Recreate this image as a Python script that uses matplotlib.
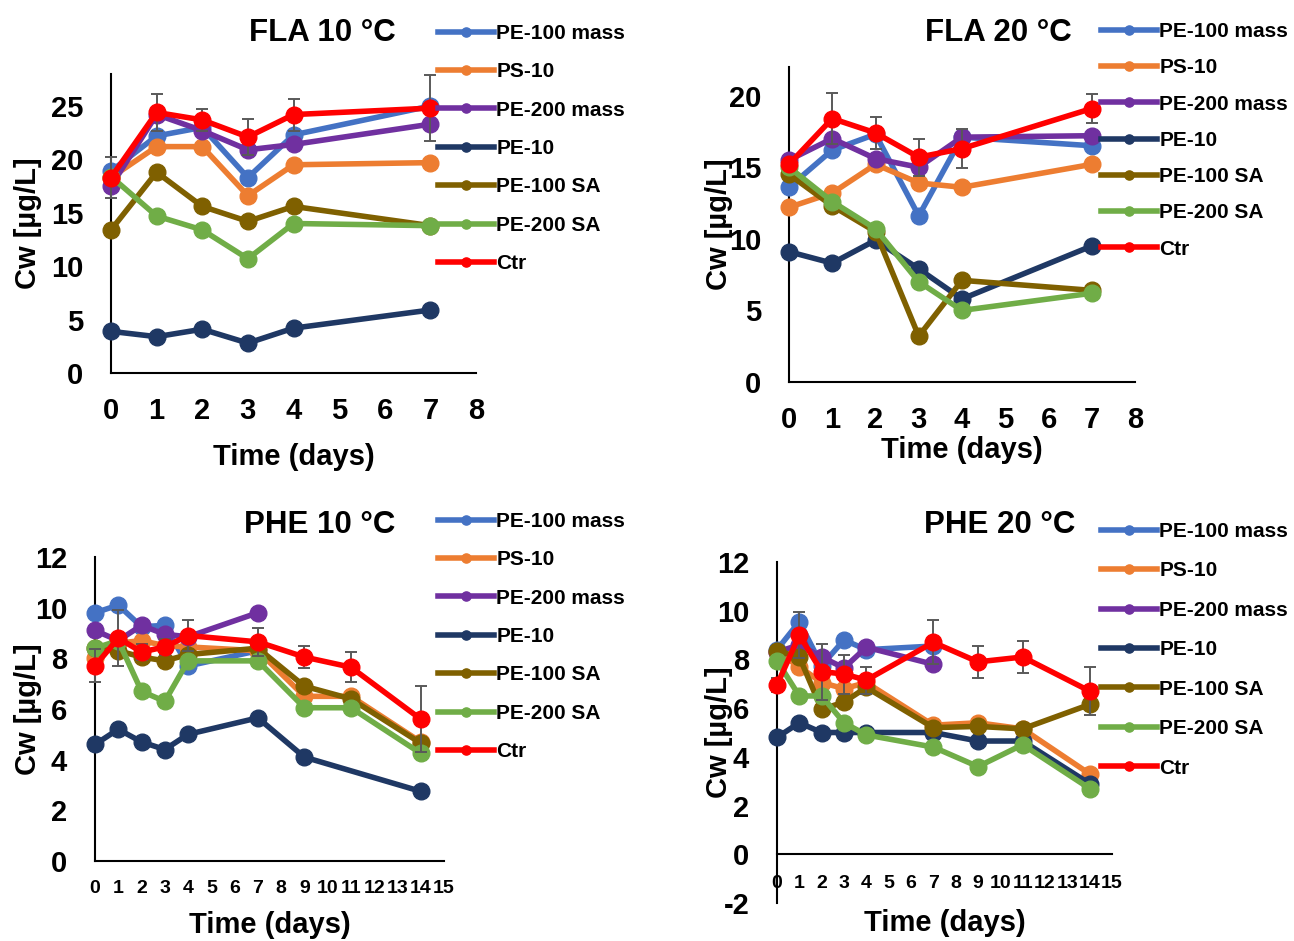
import matplotlib.pyplot as plt

plt.rcParams["font.family"] = ["Liberation Sans", "DejaVu Sans"]
plt.rcParams["font.weight"] = "bold"
plt.rcParams["axes.unicode_minus"] = False

W, H = 1294, 941

series_names = ["PE-100 mass", "PS-10", "PE-200 mass", "PE-10", "PE-100 SA", "PE-200 SA", "Ctr"]
series_colors = ["#4472C4", "#ED7D31", "#7030A0", "#1F3864", "#7F6000", "#70AD47", "#FF0000"]

# FLA, sampled on days 0-4 and 7
fla_days = [0, 1, 2, 3, 4, 7]

fla10_pe100_mass = [18.9, 22.2, 23.0, 18.3, 22.3, 25.0]
fla10_ps10 = [18.3, 21.2, 21.2, 16.6, 19.5, 19.7]
fla10_pe200_mass = [17.5, 24.2, 22.7, 20.9, 21.4, 23.3]
fla10_pe10 = [3.9, 3.4, 4.1, 2.8, 4.2, 5.9]
fla10_pe100_sa = [13.4, 18.8, 15.6, 14.2, 15.6, 13.8]
fla10_pe200_sa = [18.4, 14.7, 13.4, 10.7, 14.0, 13.8]
fla10_ctr = [18.3, 24.4, 23.7, 22.1, 24.2, 24.8]
fla10_ctr_err = [1.9, 1.7, 1.0, 1.7, 1.5, 3.1]

fla20_pe100_mass = [13.6, 16.2, 17.3, 11.6, 17.1, 16.5]
fla20_ps10 = [12.2, 13.2, 15.2, 13.9, 13.6, 15.2]
fla20_pe200_mass = [15.5, 17.0, 15.6, 15.0, 17.1, 17.2]
fla20_pe10 = [9.1, 8.3, 9.9, 7.9, 5.8, 9.5]
fla20_pe100_sa = [14.5, 12.3, 10.5, 3.2, 7.1, 6.4]
fla20_pe200_sa = [15.0, 12.6, 10.7, 7.0, 5.0, 6.2]
fla20_ctr = [15.2, 18.4, 17.4, 15.7, 16.3, 19.1]
fla20_ctr_err = [0.3, 1.8, 1.1, 1.3, 1.35, 1.0]

# PHE, sampled up to day 14
phe_days = [0, 1, 2, 3, 4, 7, 9, 11, 14]
phe_days_short = [0, 1, 2, 3, 4, 7]
phe_days_no11 = [0, 1, 2, 3, 4, 7, 9, 14]

phe10_pe100_mass = [9.8, 10.1, 9.25, 9.3, 7.7, 8.3]
phe10_ps10 = [8.0, 8.6, 8.7, 8.5, 8.45, 8.3, 6.5, 6.5, 4.7]
phe10_pe200_mass = [9.1, 8.7, 9.3, 8.95, 8.85, 9.8]
phe10_pe10 = [4.6, 5.2, 4.7, 4.4, 5.0, 5.65, 4.1, 2.75]
phe10_pe100_sa = [8.4, 8.3, 8.05, 7.9, 8.15, 8.4, 6.9, 6.4, 4.65]
phe10_pe200_sa = [8.4, 8.7, 6.7, 6.3, 7.9, 7.9, 6.05, 6.05, 4.25]
phe10_ctr = [7.7, 8.8, 8.25, 8.45, 8.9, 8.65, 8.05, 7.65, 5.6]
phe10_ctr_err = [0.65, 1.1, 0.3, 0.3, 0.6, 0.55, 0.42, 0.6, 1.3]

phe20_pe100_mass = [8.4, 9.55, 7.75, 8.8, 8.4, 8.55]
phe20_ps10 = [8.3, 7.7, 7.05, 6.8, 7.05, 5.3, 5.4, 5.15, 3.3]
phe20_pe200_mass = [8.3, 8.6, 8.1, 7.65, 8.5, 7.8]
phe20_pe10 = [4.8, 5.4, 5.0, 5.0, 5.0, 5.0, 4.65, 4.65, 2.9]
phe20_pe100_sa = [8.35, 8.1, 5.95, 6.25, 6.85, 5.2, 5.25, 5.15, 6.15]
phe20_pe200_sa = [7.95, 6.5, 6.5, 5.4, 4.9, 4.4, 3.6, 4.5, 2.7]
phe20_ctr = [6.95, 9.0, 7.5, 7.4, 7.15, 8.7, 7.9, 8.1, 6.7]
phe20_ctr_err = [0.3, 0.95, 1.15, 0.8, 0.55, 0.9, 0.65, 0.65, 1.0]


def box(left, top, right, bottom):
    # pixel box -> figure fraction rectangle
    return [left / W, 1 - bottom / H, (right - left) / W, (bottom - top) / H]


panels = [
    dict(title="FLA 10 °C", title_xy=(322, 33), rect=box(111, 74, 476, 373),
         xs=[fla_days] * 7,
         ys=[fla10_pe100_mass, fla10_ps10, fla10_pe200_mass, fla10_pe10,
             fla10_pe100_sa, fla10_pe200_sa, fla10_ctr],
         err=fla10_ctr_err, ylim=(0, 28), yticks=range(0, 26, 5),
         xlim=(0, 8), xticks=range(0, 9), xtick_size=21, xpad=17,
         ylabel_x=-0.189, xlabel_y=-0.28, leg_xy=(438, 24), leg_space=0.93),
    dict(title="FLA 20 °C", title_xy=(998, 33), rect=box(789, 67, 1135, 382),
         xs=[fla_days] * 7,
         ys=[fla20_pe100_mass, fla20_ps10, fla20_pe200_mass, fla20_pe10,
             fla20_pe100_sa, fla20_pe200_sa, fla20_ctr],
         err=fla20_ctr_err, ylim=(0, 22), yticks=range(0, 21, 5),
         xlim=(0, 8), xticks=range(0, 9), xtick_size=21, xpad=17,
         ylabel_x=-0.162, xlabel_y=-0.216, leg_xy=(1101, 22), leg_space=0.83),
    dict(title="PHE 10 °C", title_xy=(320, 525), rect=box(95, 557, 444, 861),
         xs=[phe_days_short, phe_days, phe_days_short, phe_days_no11,
             phe_days, phe_days, phe_days],
         ys=[phe10_pe100_mass, phe10_ps10, phe10_pe200_mass, phe10_pe10,
             phe10_pe100_sa, phe10_pe200_sa, phe10_ctr],
         err=phe10_ctr_err, ylim=(0, 12), yticks=range(0, 13, 2),
         xlim=(0, 15), xticks=range(0, 16), xtick_size=14, xpad=14,
         ylabel_x=-0.152, xlabel_y=-0.21, leg_xy=(438, 512), leg_space=0.93),
    dict(title="PHE 20 °C", title_xy=(1000, 525), rect=box(777, 562, 1112, 903),
         xs=[phe_days_short, phe_days, phe_days_short, phe_days,
             phe_days, phe_days, phe_days],
         ys=[phe20_pe100_mass, phe20_ps10, phe20_pe200_mass, phe20_pe10,
             phe20_pe100_sa, phe20_pe200_sa, phe20_ctr],
         err=phe20_ctr_err, ylim=(-2, 12), yticks=range(-2, 13, 2),
         xlim=(0, 15), xticks=range(0, 16), xtick_size=14, xpad=15,
         ylabel_x=-0.131, xlabel_y=-0.058, leg_xy=(1101, 522), leg_space=0.98),
]

fig = plt.figure(figsize=(W / 100, H / 100), dpi=100)

for p in panels:
    ax = fig.add_axes(p["rect"])
    for i, (name, color) in enumerate(zip(series_names, series_colors)):
        ax.plot(p["xs"][i], p["ys"][i], "-o", color=color, lw=4, ms=12,
                label=name, zorder=3 + i * 0.1, clip_on=False)
    ax.errorbar(p["xs"][6], p["ys"][6], yerr=p["err"], fmt="none",
                ecolor="#595959", elinewidth=1.4, capsize=4.5, capthick=1.4,
                zorder=3.55, clip_on=False)

    ax.set_xlim(*p["xlim"])
    ax.set_ylim(*p["ylim"])
    ax.set_xticks(list(p["xticks"]))
    ax.set_yticks(list(p["yticks"]))
    ax.tick_params(axis="y", length=0, pad=20, labelsize=21)
    ax.tick_params(axis="x", length=0, pad=p["xpad"], labelsize=p["xtick_size"])
    for s in ("top", "right"):
        ax.spines[s].set_visible(False)
    for s in ("left", "bottom"):
        ax.spines[s].set_linewidth(1.5)
    if p["ylim"][0] < 0:
        ax.spines["bottom"].set_position(("data", 0))

    # Excel-style label overlapping the tick numbers
    ax.set_ylabel("Cw [µg/L]", fontsize=21, fontweight="bold")
    ax.yaxis.set_label_coords(p["ylabel_x"], 0.5)
    ax.set_xlabel("Time (days)", fontsize=21, fontweight="bold")
    ax.xaxis.set_label_coords(0.5, p["xlabel_y"])
    ax.xaxis.label.set_verticalalignment("center")

    fig.text(p["title_xy"][0] / W, 1 - p["title_xy"][1] / H, p["title"],
             fontsize=22.5, fontweight="bold", ha="center", va="center")

    lx, ly = p["leg_xy"]
    ax.legend(loc="upper left", bbox_to_anchor=(lx / W, 1 - ly / H),
              bbox_transform=fig.transFigure, frameon=False, fontsize=15,
              markerscale=0.55, handlelength=2.7, handletextpad=0.1,
              labelspacing=p["leg_space"], borderpad=0, borderaxespad=0)

fig.savefig("out.png", dpi=100)
